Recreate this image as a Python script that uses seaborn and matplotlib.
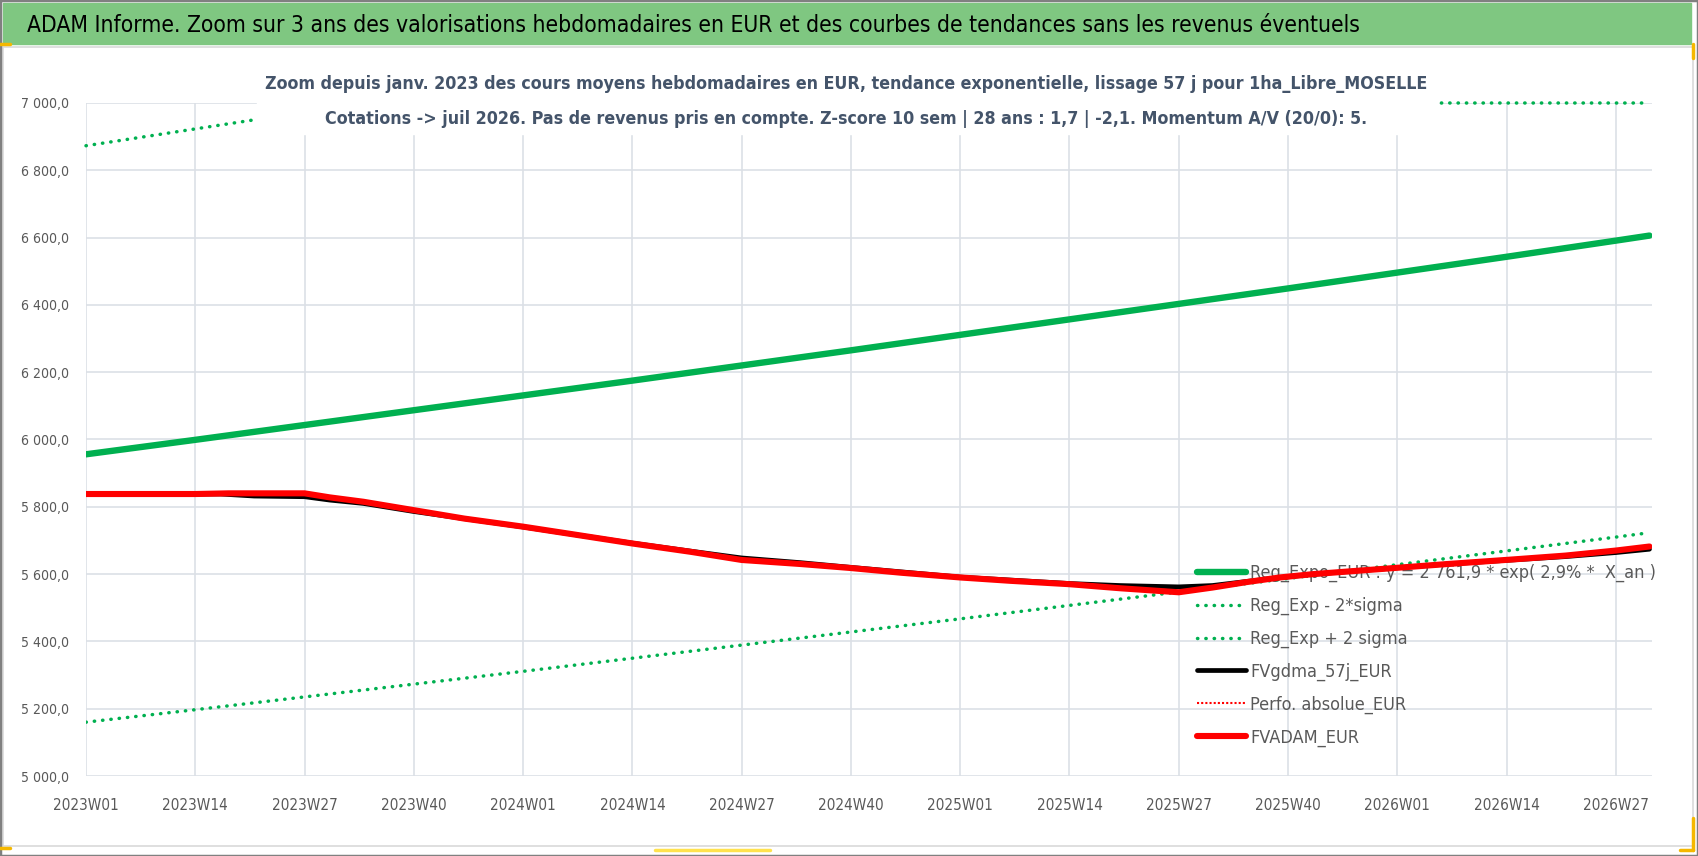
import numpy as np
import seaborn as sns
import matplotlib.pyplot as plt
from matplotlib import font_manager as fm
from matplotlib.patches import Rectangle
from matplotlib.lines import Line2D

W, H = 1698, 856

# --- data (x = week index from 2023W01) ---
tick_pos = [0, 13, 26, 39, 52, 65, 78, 91, 104, 117, 130, 143, 156, 169, 182]
tick_labels = ['2023W01', '2023W14', '2023W27', '2023W40',
               '2024W01', '2024W14', '2024W27', '2024W40',
               '2025W01', '2025W14', '2025W27', '2025W40',
               '2026W01', '2026W14', '2026W27']
y_ticks = [5000, 5200, 5400, 5600, 5800, 6000, 6200, 6400, 6600, 6800, 7000]

trend_idx = [0, 13, 26, 39, 52, 65, 78, 91, 104, 117, 130, 143, 156, 169, 182, 186]
reg_expo = [5956, 5999, 6043, 6087, 6131, 6175, 6220, 6265, 6311, 6357, 6403, 6449,
            6496, 6543, 6591, 6606]
reg_minus = [5160, 5197, 5235, 5273, 5311, 5350, 5389, 5428, 5467, 5507, 5547, 5587,
             5628, 5669, 5710, 5723]
reg_plus = [6873, 6923, 6973, 7024, 7075, 7127, 7179, 7231, 7284, 7337, 7390, 7444,
            7498, 7552, 7607, 7624]

gdma_idx = [0, 16, 20, 26, 29, 33, 39, 52, 65, 72, 78, 85, 91, 104, 117, 123, 130,
            134, 138, 146, 162, 176, 182, 186]
gdma = [5838, 5838, 5832, 5830, 5820, 5810, 5786, 5740, 5692, 5668, 5648, 5634, 5620,
        5591, 5572, 5566, 5562, 5566, 5578, 5600, 5630, 5652, 5664, 5674]

adam_idx = [0, 13, 17, 26, 29, 33, 39, 45, 52, 58, 65, 72, 78, 85, 91, 97, 104, 110,
            117, 123, 130, 134, 138, 142, 146, 154, 162, 170, 176, 182, 186]
adam = [5838, 5838, 5840, 5840, 5828, 5815, 5790, 5765, 5741, 5718, 5691, 5666, 5642,
        5630, 5618, 5604, 5590, 5580, 5570, 5558, 5546, 5560, 5576, 5590, 5600, 5615,
        5630, 5644, 5655, 5670, 5682]

title = ("ADAM Informe. Zoom sur 3 ans des valorisations hebdomadaires en EUR "
         "et des courbes de tendances sans les revenus éventuels")
sub1 = ("Zoom depuis janv. 2023 des cours moyens hebdomadaires en EUR, tendance "
        "exponentielle, lissage 57 j pour 1ha_Libre_MOSELLE")
sub2 = ("Cotations -> juil 2026. Pas de revenus pris en compte. Z-score 10 sem | "
        "28 ans : 1,7 | -2,1. Momentum A/V (20/0): 5.")

sns.set_theme(style="whitegrid")
plt.rcParams['font.family'] = ['Liberation Sans', 'DejaVu Sans']


# look for a narrow face (the original uses Calibri)
def narrow_font(weight):
    prefs = ['LiberationSansNarrow', 'DejaVuSansCondensed', 'NotoSans-Condensed',
             'NotoSans-SemiCondensed', 'Condensed', 'Narrow']
    found = [f for f in fm.fontManager.ttflist
             if f.stretch == 'condensed' and f.style == 'normal'
             and f.weight == weight]
    for p in prefs:
        for f in found:
            name = f.fname.split('/')[-1].replace(' ', '')
            if p in name and 'Extra' not in name and 'Ultra' not in name:
                return fm.FontProperties(fname=f.fname)
    return fm.FontProperties(family=['Liberation Sans', 'DejaVu Sans'],
                             weight='bold' if weight == 700 else 'normal')


FP = narrow_font(400)
FPB = narrow_font(700)

GREEN = '#00B050'
GRID = '#DCE0E6'
TXT = '#595959'

fig = plt.figure(figsize=(W / 100, H / 100), dpi=100)
fig.patch.set_facecolor('white')
renderer = fig.canvas.get_renderer()


def fit(txt, width_px, fp):
    t = fig.text(0, 0, txt, fontproperties=fp, fontsize=20)
    w = t.get_window_extent(renderer=renderer).width
    t.remove()
    return 20 * width_px / w


def props(fp, size):
    p = fp.copy()
    p.set_size(size)
    return p


ax = fig.add_axes([86 / W, 1 - 776 / H, (1652 - 86) / W, (776 - 103) / H])
ax.set_facecolor('white')

dots = (0, (0.1, 2.3))
sns.lineplot(ax=ax, x=trend_idx, y=reg_expo, color=GREEN, lw=4.6,
             label='Reg_Expo_EUR : y = 2 761,9 * exp( 2,9% *  X_an )')
sns.lineplot(ax=ax, x=trend_idx, y=reg_minus, color=GREEN, lw=2.5,
             linestyle=dots, dash_capstyle='round', label='Reg_Exp - 2*sigma')
sns.lineplot(ax=ax, x=trend_idx, y=np.minimum(reg_plus, 7000), color=GREEN, lw=2.5,
             linestyle=dots, dash_capstyle='round', label='Reg_Exp + 2 sigma',
             clip_on=False)
sns.lineplot(ax=ax, x=gdma_idx, y=gdma, color='black', lw=3.4, label='FVgdma_57j_EUR')
sns.lineplot(ax=ax, x=adam_idx, y=adam, color='red', lw=1.5, linestyle=(0, (1, 1)),
             label='Perfo. absolue_EUR')
sns.lineplot(ax=ax, x=adam_idx, y=adam, color='red', lw=4.4, label='FVADAM_EUR')

ax.set_xlim(0, 186.3)
ax.set_ylim(5000, 7000)
ax.set_xticks(tick_pos)
ax.set_xticklabels(tick_labels, fontproperties=props(FP, fit('2023W01', 66, FP)),
                   color=TXT)
ax.set_yticks(y_ticks)
ax.set_yticklabels([f"{v // 1000} {v % 1000:03d},0" for v in y_ticks],
                   fontproperties=props(FP, fit('7 000,0', 48, FP)), color=TXT)
ax.set_xlabel('')
ax.set_ylabel('')
ax.grid(True, color=GRID, lw=1.2)
ax.set_axisbelow(True)
for s in ax.spines.values():
    s.set_visible(False)
ax.tick_params(axis='x', length=7, width=1.2, color=GRID, pad=9)
ax.tick_params(axis='y', length=0, pad=12)

leg_fs = fit('Reg_Exp - 2*sigma', 152, FP)
leg_px = leg_fs * 100 / 72
handles, labels = ax.get_legend_handles_labels()
leg = ax.legend(handles, labels, loc='upper left',
                bbox_to_anchor=(1197 / W, 1 - 564 / H),
                bbox_transform=fig.transFigure, frameon=False,
                prop=props(FP, leg_fs),
                handlelength=49 / leg_px, handletextpad=0.25,
                labelspacing=0.28 + 9.6 / leg_px, borderpad=0, borderaxespad=0)
for t in leg.get_texts():
    t.set_color(TXT)
leg.set_zorder(1)

# --- frame, title band and subtitle box ---
fig.add_artist(Rectangle((0, 0), 1, 1, transform=fig.transFigure, fill=False,
                         edgecolor='#808080', lw=2.5, zorder=10))
fig.add_artist(Rectangle((3 / W, 1 - 846 / H), 1690 / W, (846 - 47) / H,
                         transform=fig.transFigure, fill=False,
                         edgecolor='#D9D9D9', lw=1.2, zorder=9))
fig.add_artist(Rectangle((3 / W, 1 - 44 / H), 1688 / W, 41 / H,
                         transform=fig.transFigure, color='#7FC781', zorder=9))
fig.text(27 / W, 1 - 25 / H, title, ha='left', va='center', color='black',
         fontproperties=props(FP, fit(title, 1334, FP)), zorder=11)

fig.add_artist(Rectangle((257 / W, 1 - 134 / H), (1438 - 257) / W, 70 / H,
                         transform=fig.transFigure, color='white', zorder=5))
sub_fp = props(FPB, fit(sub1, 1166, FPB))
fig.text(846 / W, 1 - 84 / H, sub1, ha='center', va='center',
         color='#44546A', fontproperties=sub_fp, zorder=6)
fig.text(846 / W, 1 - 119 / H, sub2, ha='center', va='center',
         color='#44546A', fontproperties=sub_fp, zorder=6)

# excel selection marks
for xs, ys, c in [([0, 10], [44, 44], '#F5B800'), ([1693, 1693], [44, 58], '#F5B800'),
                  ([0, 10], [848, 848], '#F5B800'), ([655, 770], [850, 850], '#FFE24D'),
                  ([1693, 1693], [818, 850], '#F5B800'), ([1680, 1693], [850, 850], '#F5B800')]:
    fig.add_artist(Line2D([x / W for x in xs], [1 - y / H for y in ys],
                          transform=fig.transFigure, color=c, lw=2.5, zorder=12))

fig.savefig('out.png', dpi=100)
